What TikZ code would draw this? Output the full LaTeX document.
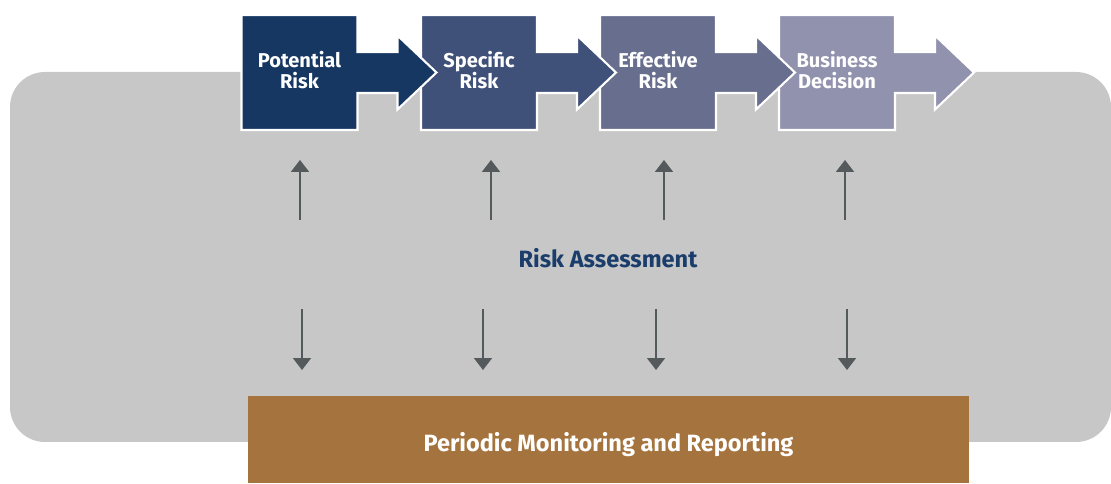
\documentclass[tikz,border=0pt]{standalone}
\usepackage{fontspec}
\setmainfont{Fira Sans}
\usepackage{tikz}
\usetikzlibrary{positioning,arrows.meta,calc,backgrounds}
\definecolor{panelgray}{RGB}{198,199,198}
\definecolor{potc}{RGB}{21,55,98}
\definecolor{spec}{RGB}{63,81,121}
\definecolor{effc}{RGB}{104,110,142}
\definecolor{busc}{RGB}{145,146,174}
\definecolor{ochre}{RGB}{165,115,61}
\definecolor{arrgray}{RGB}{84,89,91}
\definecolor{navy}{RGB}{27,61,107}
\tikzset{
  stepbox/.style={align=center,text=white,font=\fontsize{11.4}{12}\selectfont\bfseries,text depth=0.12cm,inner sep=0pt,outer sep=0pt,minimum width=2.32cm,minimum height=2.3cm},
  piece/.style={draw=white,line width=1.2pt,line join=miter},
  monbox/.style={fill=ochre,text=white,font=\fontsize{13.4}{14}\selectfont\bfseries,text height=0.58cm,text depth=0.1cm,inner sep=0pt,outer sep=0pt,minimum width=14.42cm,minimum height=1.74cm},
  title/.style={text=navy,font=\fontsize{13.4}{14}\selectfont\bfseries},
  link/.style={-{Triangle[length=0.24cm,width=0.36cm]},draw=arrgray,line width=1pt},
}
% one step of the chain: square plus arrow tab
\newcommand{\piece}[2]{%
  \draw[piece,fill=#2] (#1.south west) -- (#1.south east) -- ($(#1.east)+(0,-20.5)$) -- ++(40,0) -- ++(0,-16.5)
    -- ($(#1.east)+(79,0)$) -- ($(#1.east)+(40,37)$) -- ++(0,-16.5) -- ($(#1.east)+(0,20.5)$)
    -- (#1.north east) -- (#1.north west) -- cycle;}

\begin{document}
\begin{tikzpicture}[x=0.02cm,y=0.02cm]
  \useasboundingbox (0,0) rectangle (1111,483);
  \node[stepbox] (pot) at (299.5,410.5) {Potential\\Risk};
  \node[stepbox] (spe) at (479,410.5) {Specific\\Risk};
  \node[stepbox] (eff) at (658,410.5) {Effective\\Risk};
  \node[stepbox] (bus) at (837,410.5) {Business\\Decision};
  \begin{scope}[on background layer]
    \fill[panelgray,rounded corners=0.7cm] (10,41) rectangle (1111,411);
    \piece{bus}{busc}
    \piece{eff}{effc}
    \piece{spe}{spec}
    \piece{pot}{potc}
  \end{scope}
  \node[title] (ra) at (608,225) {Risk Assessment};
  \node[monbox] (mon) at (608.5,43.5) {Periodic Monitoring and Reporting};
  % up to the steps
  \coordinate (u1) at (300,263);
  \coordinate (u2) at (491,263);
  \coordinate (u3) at (664,263);
  \coordinate (u4) at (845,263);
  \draw[link,shorten >=0.6cm] (u1) -- (u1 |- pot.south);
  \draw[link,shorten >=0.6cm] (u2) -- (u2 |- spe.south);
  \draw[link,shorten >=0.6cm] (u3) -- (u3 |- eff.south);
  \draw[link,shorten >=0.6cm] (u4) -- (u4 |- bus.south);
  % down to monitoring
  \coordinate (d1) at (302,174);
  \coordinate (d2) at (483,174);
  \coordinate (d3) at (656,174);
  \coordinate (d4) at (847,174);
  \draw[link,shorten >=0.52cm] (d1) -- (d1 |- mon.north);
  \draw[link,shorten >=0.52cm] (d2) -- (d2 |- mon.north);
  \draw[link,shorten >=0.52cm] (d3) -- (d3 |- mon.north);
  \draw[link,shorten >=0.52cm] (d4) -- (d4 |- mon.north);
\end{tikzpicture}
\end{document}
